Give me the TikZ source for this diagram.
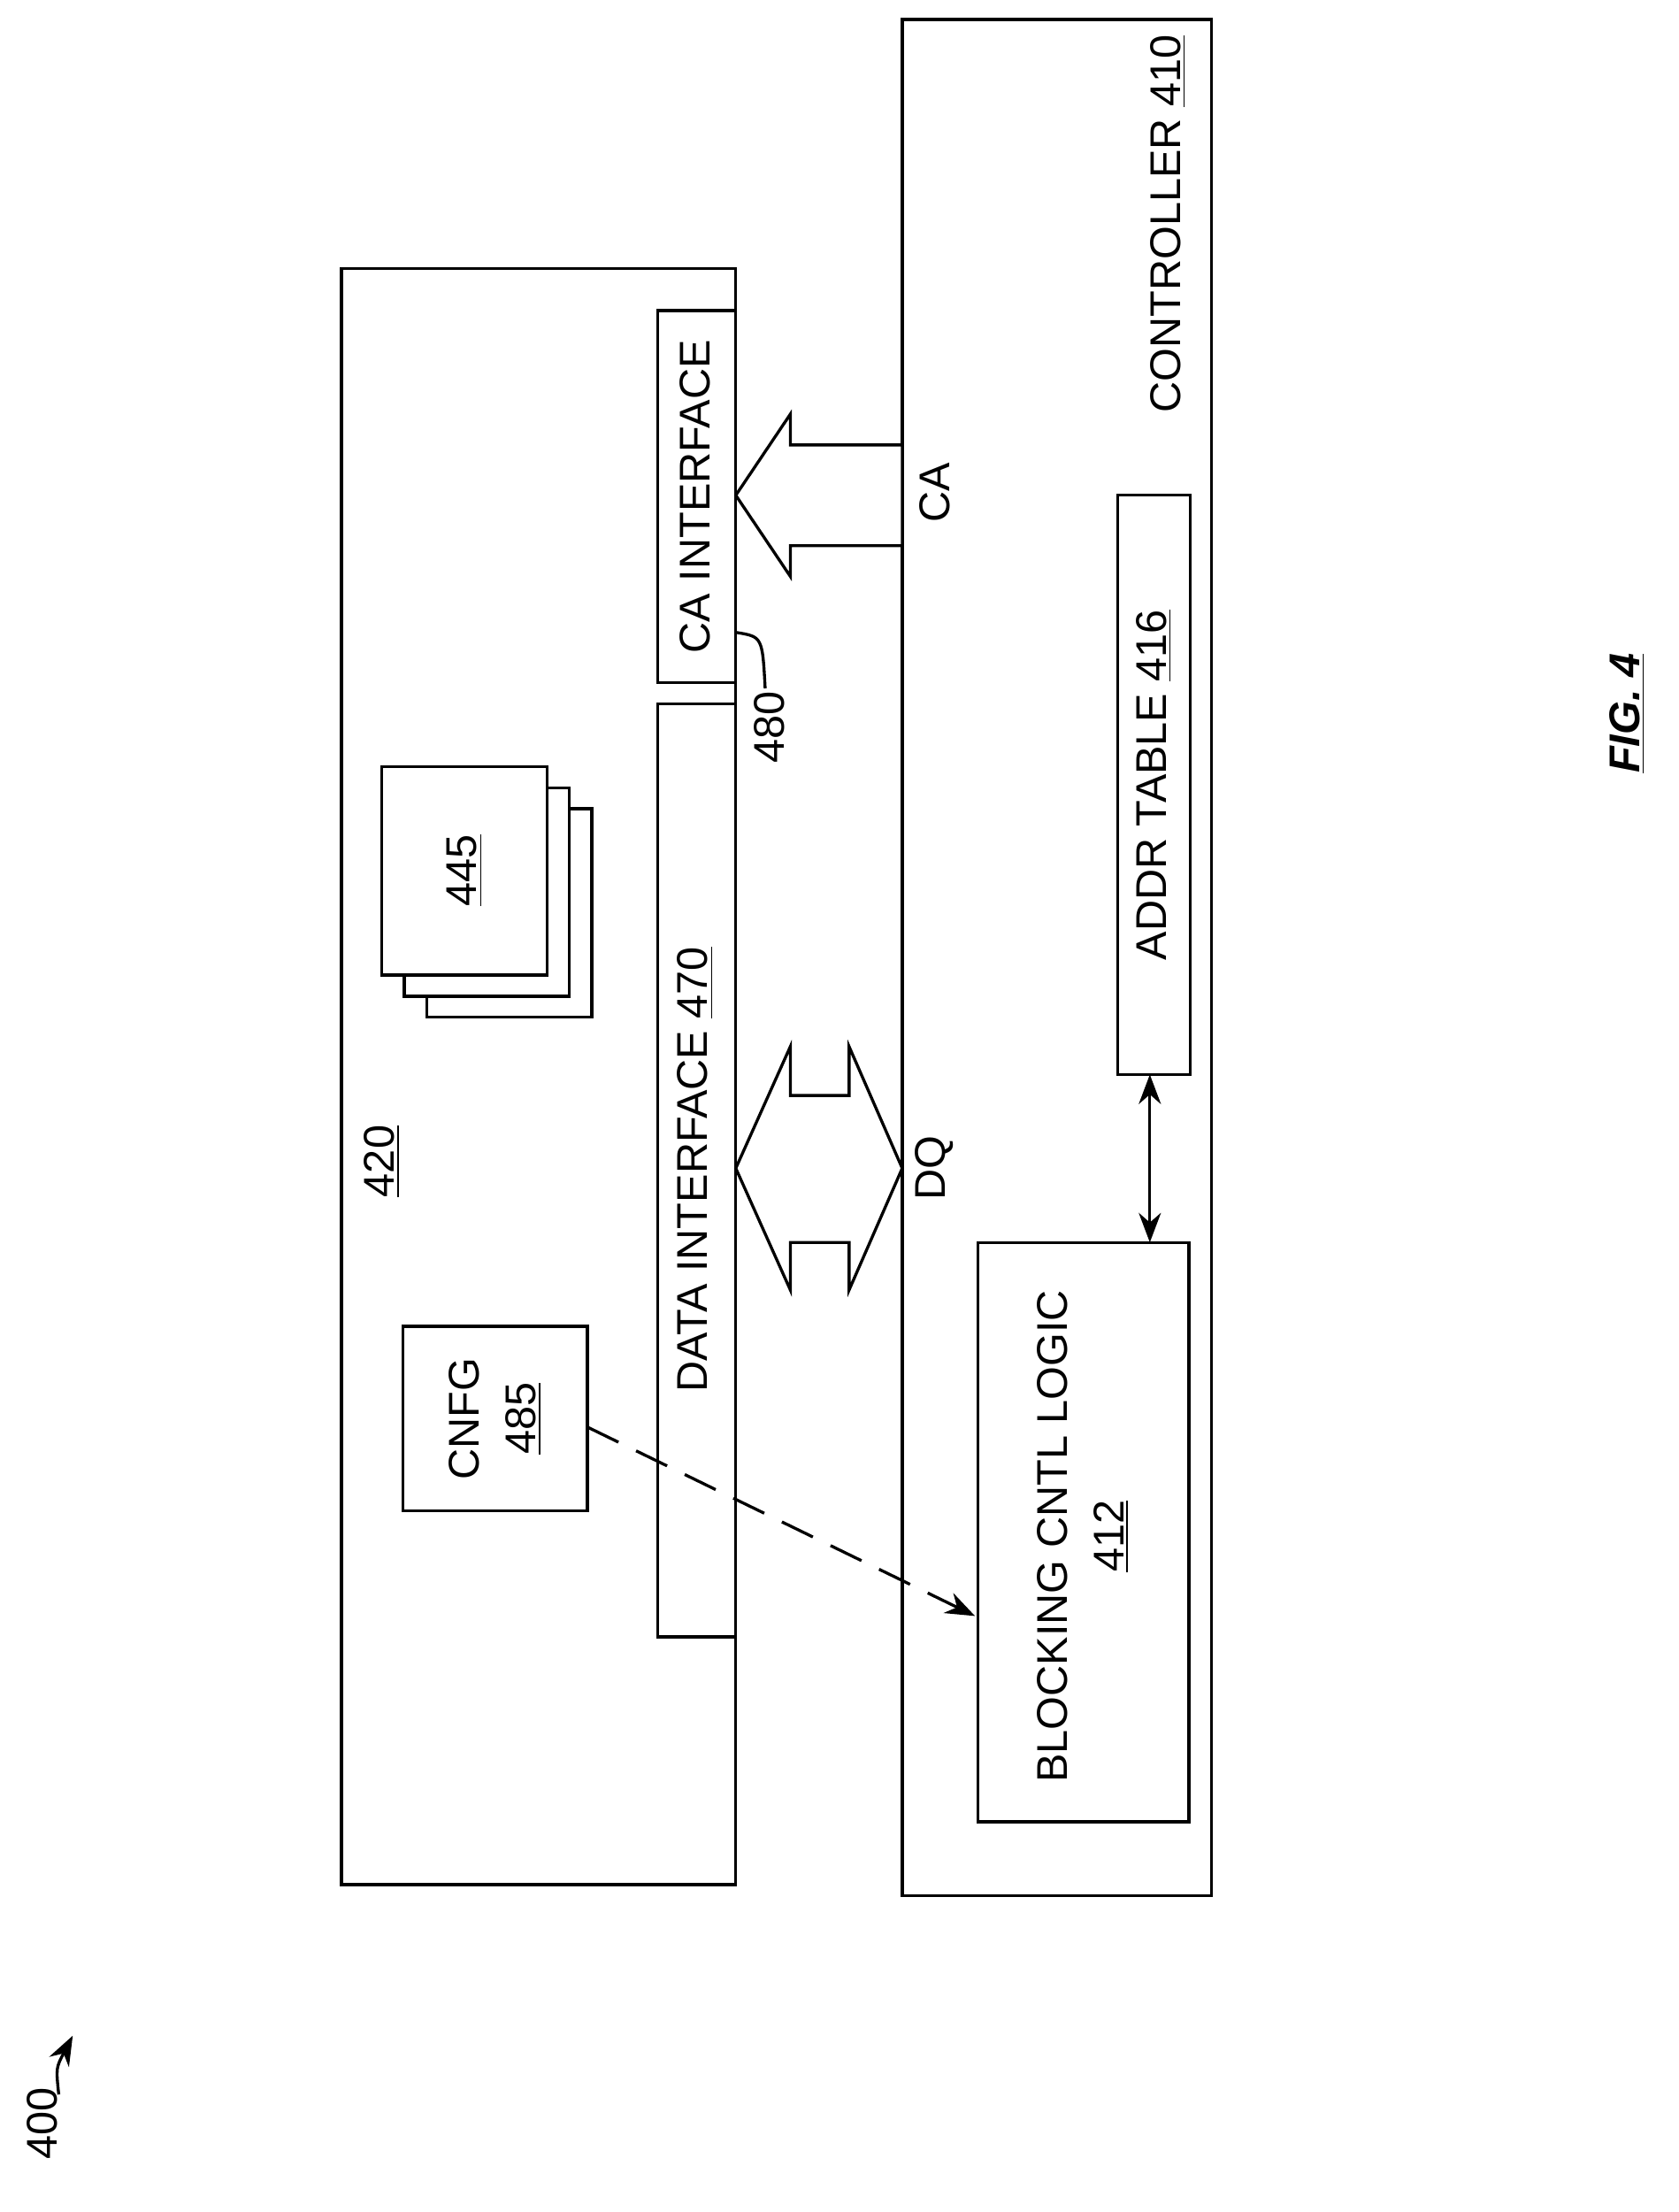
\documentclass[tikz,border=0pt]{standalone}
\usepackage{fontspec}
\setmainfont{Liberation Sans}
\usetikzlibrary{arrows.meta,positioning,calc}
\begin{document}
\begin{tikzpicture}[x=0.02cm,y=-0.02cm,
    box/.style={draw,line width=1.2pt,fill=white},
    lbl/.style={rotate=90,font=\fontsize{17.5}{23}\selectfont,align=center},
    fat/.style={draw,line width=1.2pt,fill=white,line join=miter}]
\useasboundingbox (0,0) rectangle (1200,1581);
% blocks
\draw[box] (645,14) rectangle (866,1355);
\draw[box] (244,192) rectangle (526,1347);
\draw[box] (470,222) rectangle (526,488);
\draw[box] (470,503) rectangle (526,1170);
\draw[box] (305,578) rectangle (423,727);
\draw[box] (289,563) rectangle (407,712);
\draw[box] (273,548) rectangle (391,697);
\draw[box] (288,948) rectangle (420,1080);
\draw[box] (699,888) rectangle (850,1302);
\draw[box] (799,354) rectangle (851,768);
\node[lbl] (ca) at (497,355) {CA INTERFACE};
\node[lbl] (data) at (497,836) {DATA INTERFACE \underline{470}};
\node[lbl] (mem) at (332,622) {\underline{445}};
\node[lbl] (dev) at (273,830) {\underline{420}};
\node[lbl] (cnfg) at (354,1014) {CNFG\\\underline{485}};
\node[lbl] (block) at (774,1098) {BLOCKING CNTL LOGIC\\\underline{412}};
\node[lbl] (addr) at (825,561) {ADDR TABLE \underline{416}};
\node[lbl] (ctrl) at (835,160) {CONTROLLER \underline{410}};
\node[lbl] (calbl) at (668,352) {CA};
\node[lbl] (dqlbl) at (668,835) {DQ};
\node[lbl] (ref) at (550,520) {480};
\node[lbl,font=\fontsize{17.5}{23}\selectfont\bfseries\itshape] (fig) at (1163,510) {\underline{FIG. 4}};
\node[lbl] (num) at (30,1518) {400};
% buses
\draw[fat] (645,318) -- (565,318) -- (565,296) -- (526,354) -- (565,412) -- (565,390) -- (645,390) -- cycle;
\draw[fat] (526,835) -- (565,748) -- (565,783) -- (607,783) -- (607,748) -- (645,835)
  -- (607,922) -- (607,888) -- (565,888) -- (565,922) -- cycle;
% connectors
\draw[line width=1.2pt,{Stealth[length=12pt]}-{Stealth[length=12pt]}] (822,768) -- (822,888);
\draw[line width=1.2pt,dashed,dash pattern=on 14pt off 8pt,-{Stealth[length=12pt]}] (420,1020) -- (697,1155);
\draw[line width=1.2pt] (526,452) .. controls (545,455) .. (547,492);
\draw[line width=1.2pt,-{Stealth[length=12pt]}] (42,1497) .. controls (40,1478) .. (52,1455);
\end{tikzpicture}
\end{document}
